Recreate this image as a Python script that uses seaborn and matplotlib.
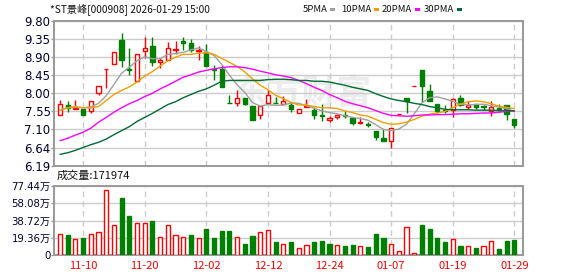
import numpy as np
import pandas as pd
import matplotlib
matplotlib.use("Agg")
import matplotlib.pyplot as plt
import seaborn as sns
from matplotlib.patches import Rectangle

dates = ['11-05','11-06','11-07','11-10','11-11','11-12','11-13','11-14','11-17','11-18',
         '11-19','11-20','11-21','11-24','11-25','11-26','11-27','11-28','12-01','12-02',
         '12-03','12-04','12-05','12-08','12-09','12-10','12-11','12-12','12-15','12-16',
         '12-17','12-18','12-19','12-22','12-23','12-24','12-25','12-26','12-29','12-30',
         '12-31','01-05','01-06','01-07','01-08','01-09','01-12','01-13','01-14','01-15',
         '01-16','01-19','01-20','01-21','01-22','01-23','01-26','01-27','01-28','01-29']

opens = [7.46, 7.71, 7.62, 7.61, 7.57, 8.01, 8.60, 8.74, 9.32, 8.61,
         8.30, 9.06, 9.17, 8.79, 8.84, 9.09, 9.30, 9.26, 9.06, 9.03,
         8.61, 8.61, 7.76, 7.76, 7.89, 7.69, 7.46, 7.76, 7.76, 7.74,
         7.72, 7.50, 7.65, 7.59, 7.45, 7.34, 7.40, 7.46, 7.38, 7.27,
         7.24, 7.07, 6.88, 6.82, 7.49, 7.89, 8.19, 8.59, 8.05, 7.74,
         7.59, 7.59, 7.89, 7.67, 7.74, 7.69, 7.57, 7.63, 7.71, 7.36]
highs = [7.84, 7.80, 7.84, 7.62, 7.82, 8.19, 8.61, 9.04, 9.51, 9.14,
         8.99, 9.39, 9.39, 8.89, 9.27, 9.31, 9.41, 9.34, 9.17, 9.22,
         8.71, 8.70, 7.95, 8.09, 7.89, 7.69, 7.69, 8.09, 7.92, 7.93,
         7.78, 7.61, 7.85, 7.65, 7.74, 7.44, 7.46, 7.55, 7.38, 7.40,
         7.29, 7.07, 7.11, 7.13, 7.49, 7.89, 8.19, 8.59, 8.22, 7.74,
         7.72, 7.89, 7.95, 7.80, 7.74, 7.72, 7.80, 7.74, 7.71, 7.36]
lows = [7.45, 7.53, 7.61, 7.46, 7.51, 7.95, 8.14, 8.74, 8.66, 8.46,
        8.30, 8.89, 8.67, 8.63, 8.84, 8.99, 9.07, 9.03, 8.82, 8.67,
        8.34, 8.15, 7.75, 7.69, 7.71, 7.34, 7.35, 7.76, 7.75, 7.73,
        7.53, 7.50, 7.65, 7.36, 7.32, 7.29, 7.35, 7.39, 7.21, 7.24,
        7.17, 6.83, 6.81, 6.65, 7.49, 7.50, 8.19, 7.78, 7.80, 7.50,
        7.50, 7.40, 7.69, 7.61, 7.61, 7.59, 7.44, 7.57, 7.34, 7.13]
closes = [7.74, 7.64, 7.64, 7.46, 7.82, 8.19, 8.61, 9.04, 8.82, 8.59,
          8.99, 9.12, 8.78, 8.84, 9.12, 9.11, 9.24, 9.09, 9.09, 8.67,
          8.59, 8.15, 7.75, 7.89, 7.74, 7.34, 7.68, 7.97, 7.75, 7.80,
          7.61, 7.61, 7.68, 7.47, 7.44, 7.39, 7.46, 7.43, 7.26, 7.29,
          7.22, 6.90, 6.82, 7.13, 7.49, 7.80, 8.19, 8.18, 7.80, 7.57,
          7.57, 7.86, 7.72, 7.71, 7.67, 7.67, 7.67, 7.60, 7.49, 7.22]

ma5 = [7.59, 7.64, 7.65, 7.64, 7.66, 7.75, 7.94, 8.22, 8.50, 8.65,
       8.81, 8.91, 8.86, 8.86, 8.97, 8.99, 9.02, 9.08, 9.13, 9.04,
       8.94, 8.72, 8.45, 8.21, 8.02, 7.77, 7.68, 7.72, 7.70, 7.71,
       7.76, 7.75, 7.69, 7.63, 7.56, 7.52, 7.49, 7.44, 7.40, 7.37,
       7.33, 7.22, 7.10, 7.07, 7.11, 7.23, 7.49, 7.76, 7.89, 7.91,
       7.86, 7.80, 7.72, 7.71, 7.72, 7.73, 7.69, 7.66, 7.62, 7.55]
ma10 = [7.57, 7.64, 7.67, 7.64, 7.64, 7.67, 7.82, 7.97, 8.07, 8.16,
        8.28, 8.43, 8.54, 8.68, 8.81, 8.90, 8.97, 8.97, 9.00, 9.01,
        8.97, 8.87, 8.77, 8.67, 8.53, 8.36, 8.20, 8.09, 7.95, 7.87,
        7.77, 7.71, 7.71, 7.67, 7.64, 7.64, 7.62, 7.56, 7.52, 7.46,
        7.43, 7.35, 7.27, 7.23, 7.24, 7.28, 7.35, 7.43, 7.48, 7.51,
        7.55, 7.64, 7.73, 7.79, 7.81, 7.79, 7.74, 7.68, 7.65, 7.62]
ma20 = [6.82, 6.88, 6.96, 7.03, 7.13, 7.28, 7.40, 7.53, 7.64, 7.74,
        7.82, 7.92, 8.00, 8.11, 8.20, 8.30, 8.40, 8.46, 8.53, 8.57,
        8.61, 8.64, 8.66, 8.66, 8.64, 8.60, 8.55, 8.51, 8.46, 8.43,
        8.39, 8.32, 8.24, 8.15, 8.07, 7.97, 7.89, 7.80, 7.74, 7.69,
        7.64, 7.57, 7.50, 7.45, 7.44, 7.43, 7.44, 7.46, 7.46, 7.47,
        7.47, 7.48, 7.49, 7.49, 7.50, 7.51, 7.51, 7.53, 7.55, 7.57]
ma30 = [6.48, 6.52, 6.58, 6.65, 6.72, 6.78, 6.86, 6.97, 7.07, 7.17,
        7.30, 7.40, 7.50, 7.61, 7.72, 7.79, 7.89, 7.97, 8.05, 8.11,
        8.20, 8.30, 8.32, 8.32, 8.32, 8.32, 8.32, 8.34, 8.35, 8.35,
        8.34, 8.32, 8.32, 8.30, 8.30, 8.28, 8.24, 8.20, 8.15, 8.11,
        8.07, 7.99, 7.92, 7.86, 7.82, 7.79, 7.75, 7.72, 7.67, 7.64,
        7.60, 7.59, 7.59, 7.59, 7.58, 7.58, 7.58, 7.57, 7.57, 7.56]

volumes = [23.8, 22.7, 17.8, 19.3, 23.8, 26.1, 72.5, 34.0, 63.5, 44.2,
           36.3, 36.3, 37.8, 20.0, 34.0, 22.3, 20.4, 22.7, 19.3, 29.5,
           19.3, 26.4, 27.2, 20.0, 12.5, 21.5, 26.1, 28.3, 15.1, 12.5,
           15.1, 7.6, 11.3, 15.1, 16.2, 12.5, 11.3, 10.2, 11.3, 10.2,
           9.4, 23.8, 19.3, 12.5, 4.5, 31.4, 1.9, 34.0, 29.5, 19.3,
           15.1, 17.8, 10.2, 10.2, 7.6, 10.2, 15.9, 6.8, 15.9, 17.2]
vol_up = [1, 0, 1, 0, 1, 1, 1, 1, 0, 0,
          1, 1, 0, 1, 1, 1, 1, 0, 1, 0,
          0, 0, 0, 1, 0, 0, 1, 1, 0, 1,
          0, 1, 1, 0, 0, 0, 1, 0, 0, 1,
          0, 0, 0, 1, 1, 1, 1, 0, 0, 0,
          0, 1, 0, 1, 0, 1, 1, 0, 0, 0]

price_ticks = [6.19, 6.64, 7.10, 7.55, 8.00, 8.45, 8.90, 9.35, 9.80]
price_tick_labels = ['6.19', '6.64', '7.10', '7.55', '8.00', '8.45', '8.90', '9.35', '9.80']
vol_ticks = [0, 19.36, 38.72, 58.08, 77.44]
vol_tick_labels = ['0', '19.36万', '38.72万', '58.08万', '77.44万']
date_tick_labels = ['11-10', '11-20', '12-02', '12-12', '12-24', '01-07', '01-19', '01-29']
ma_names = ['5PMA', '10PMA', '20PMA', '30PMA']
ma_colors = ['#a0a0a0', '#f0a000', '#ff00ff', '#006b33']
title = '*ST景峰[000908] 2026-01-29 15:00'
vol_title = '成交量:171974'
watermark = '东方财富'

RED = '#ff0000'
GREEN = '#008000'
GRID = '#cccccc'
BORDER = '#999999'
TICKC = '#000033'

sns.set_theme(style='white')
plt.rcParams['font.family'] = ['DejaVu Sans', 'Noto Sans CJK SC']
CJK = ['Noto Sans CJK SC', 'DejaVu Sans']

W, H = 578, 276
fig = plt.figure(figsize=(W / 100, H / 100), dpi=100)
fig.patch.set_facecolor('white')


def fax(l, t, r, b):
    return fig.add_axes([l / W, 1 - b / H, (r - l) / W, (b - t) / H])


ax = fax(54, 21, 522.5, 166)
axv = fax(54, 186, 522.5, 255)

idx = np.arange(len(dates))
o = np.array(opens); h = np.array(highs); l = np.array(lows); c = np.array(closes)
up = c >= o
tick_pos = [dates.index(d) for d in date_tick_labels]

for a in (ax, axv):
    a.set_facecolor('white')
    a.set_xlim(-0.78, 60.06)
    a.set_xticks(tick_pos)
    a.grid(axis='x', color=GRID, linestyle=(0, (4, 3)), linewidth=1)
    a.grid(axis='y', color=GRID, linestyle='-', linewidth=1)
    a.set_axisbelow(True)
    for s in a.spines.values():
        s.set_color(BORDER)
        s.set_linewidth(1.4)
    a.tick_params(axis='y', direction='out', length=2, width=1, color=BORDER,
                  pad=0.5, labelsize=8.5, labelcolor=TICKC, left=True)

# watermark
ax.text(0.53, 0.50, watermark, transform=ax.transAxes, ha='center', va='center',
        fontsize=25, fontweight='bold', color='#ececec', family=CJK, zorder=0.5)

# candles
bw = 0.56
ax.vlines(idx, l, h, colors=np.where(up, RED, GREEN), linewidth=1, zorder=2)
body_h = np.where(np.abs(c - o) < 0.005, 0.004, c - o)
ax.bar(idx[up], body_h[up], bottom=o[up], width=bw, facecolor='white',
       edgecolor=RED, linewidth=1, zorder=3)
ax.bar(idx[~up], body_h[~up], bottom=o[~up], width=bw, facecolor=GREEN,
       edgecolor=GREEN, linewidth=1, zorder=3)

# moving averages
ma_df = pd.concat([pd.DataFrame({'idx': idx, 'value': v, 'ma': n})
                   for n, v in zip(ma_names, [ma5, ma10, ma20, ma30])])
sns.lineplot(data=ma_df, x='idx', y='value', hue='ma', palette=dict(zip(ma_names, ma_colors)),
             ax=ax, legend=False, linewidth=1, estimator=None, zorder=4)

ax.set_ylim(price_ticks[0], price_ticks[-1])
ax.set_yticks(price_ticks)
ax.set_yticklabels(price_tick_labels)
ax.set_xlabel(''); ax.set_ylabel('')
ax.tick_params(axis='x', bottom=False, labelbottom=False)

# volume
vol = np.array(volumes); vu = np.array(vol_up).astype(bool)
axv.bar(idx[vu], vol[vu], width=0.54, facecolor='white', edgecolor=RED, linewidth=1, zorder=3)
axv.bar(idx[~vu], vol[~vu], width=0.54, facecolor=GREEN, edgecolor=GREEN, linewidth=1, zorder=3)
axv.set_ylim(0, vol_ticks[-1])
axv.set_yticks(vol_ticks)
axv.set_yticklabels(vol_tick_labels)
axv.tick_params(axis='y', labelsize=7.3)
axv.set_xticklabels(date_tick_labels)
axv.tick_params(axis='x', bottom=False, length=0, pad=4, labelsize=8, labelcolor=RED)
for t in axv.get_xticklabels():
    t.set_family(CJK)

# header texts
fig.text(50 / W, 1 - 9.5 / H, title, ha='left', va='center', fontsize=7.3,
         family=CJK, color='#111111')
fig.text(57 / W, 1 - 176 / H, vol_title, ha='left', va='center', fontsize=8,
         family=CJK, color='#111111')
leg_text_right = [328, 371, 412, 454]
leg_sq_left = [330, 374, 415, 457]
for name, col, tr, sq in zip(ma_names, ma_colors, leg_text_right, leg_sq_left):
    fig.text(tr / W, 1 - 9.5 / H, name, ha='right', va='center', fontsize=6.8,
             family=CJK, color='#111111')
    fig.add_artist(Rectangle((sq / W, 1 - 11 / H), 5 / W, 3 / H, facecolor=col,
                             edgecolor='none', transform=fig.transFigure))

fig.savefig('out.png', dpi=100, facecolor='white')
